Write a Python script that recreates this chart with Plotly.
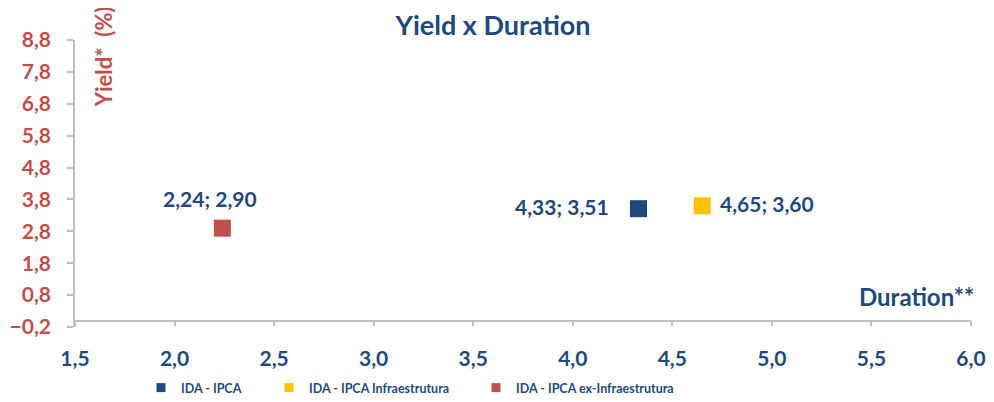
import plotly.graph_objects as go

series_names = ["IDA - IPCA", "IDA - IPCA Infraestrutura", "IDA - IPCA ex-Infraestrutura"]
duration = [4.33, 4.65, 2.24]
yield_pct = [3.51, 3.60, 2.90]
colors = ["#1F497D", "#FFC000", "#C0504D"]
label_pos = ["left", "right", "top"]

x_ticks = [1.5, 2.0, 2.5, 3.0, 3.5, 4.0, 4.5, 5.0, 5.5, 6.0]
y_ticks = [-0.2, 0.8, 1.8, 2.8, 3.8, 4.8, 5.8, 6.8, 7.8, 8.8]

FONT = "Lato, 'Open Sans', sans-serif"
BLUE = "#1F497D"
RED = "#C0504D"
AXIS = "#BFBFBF"

W, H = 986, 394  # page body has an 8px default margin

fig = go.Figure()

legend_ids = ["legend", "legend2", "legend3"]
for i, name in enumerate(series_names):
    fig.add_trace(go.Scatter(
        x=[duration[i]], y=[yield_pct[i]], mode="markers",
        marker=dict(symbol="square", size=17, color=colors[i]),
        showlegend=False, hoverinfo="skip"))
    fig.add_trace(go.Scatter(
        x=[None], y=[None], mode="markers", name=name,
        marker=dict(symbol="square", size=9, color=colors[i]),
        legend=legend_ids[i], showlegend=True))

def fmt(v):
    return f"{v:.2f}".replace(".", ",")

for i in range(len(series_names)):
    txt = f"{fmt(duration[i])}; {fmt(yield_pct[i])}"
    if label_pos[i] == "left":
        fig.add_annotation(x=duration[i], y=yield_pct[i], text=txt, showarrow=False,
                           xanchor="right", yanchor="middle", xshift=-27, yshift=2)
    elif label_pos[i] == "right":
        fig.add_annotation(x=duration[i], y=yield_pct[i], text=txt, showarrow=False,
                           xanchor="left", yanchor="middle", xshift=16, yshift=2)
    else:
        fig.add_annotation(x=duration[i], y=yield_pct[i], text=txt, showarrow=False,
                           xanchor="center", yanchor="middle", xshift=-12, yshift=30)

fig.update_annotations(font=dict(family=FONT, size=21, color=BLUE, weight="bold"))

# axis titles
fig.add_annotation(x=6.0, y=0, xref="x", yref="y", text="Duration**", showarrow=False,
                   xanchor="right", yanchor="bottom", xshift=5, yshift=8,
                   font=dict(family=FONT, size=24, color=BLUE, weight="bold"))
fig.add_annotation(x=1.5, y=0.94, xref="x", yref="paper", text="Yield*  (%)", showarrow=False,
                   textangle=-90, xanchor="center", yanchor="middle", xshift=28,
                   font=dict(family=FONT, size=22, color=RED, weight="bold"))

fig.update_layout(
    width=W, height=H,
    margin=dict(l=67, r=23, t=32, b=75, autoexpand=False),
    paper_bgcolor="white", plot_bgcolor="white",
    separators=",.",
    title=dict(text="Yield x Duration", x=485 / W, xanchor="center", y=1 - 18 / H, yanchor="middle",
               xref="container", yref="container",
               font=dict(family=FONT, size=27, color=BLUE, weight="bold")),
    xaxis=dict(range=[1.5, 6.0], tickvals=x_ticks, tickformat=".1f", automargin=False,
               showgrid=False, zeroline=False, showline=True, linecolor=AXIS, linewidth=1.5,
               ticks="outside", ticklen=5, tickcolor=AXIS, tickwidth=1.5,
               anchor="free", position=0.2 / 9.0, ticklabelstandoff=14,
               tickfont=dict(family=FONT, size=21, color=BLUE, weight="bold")),
    yaxis=dict(range=[-0.2, 8.8], tickvals=y_ticks, tickformat=".1f", automargin=False,
               showgrid=False, zeroline=False, showline=True, linecolor=AXIS, linewidth=1.5,
               ticks="outside", ticklen=6, tickcolor=AXIS, tickwidth=1.5,
               ticklabelstandoff=12,
               tickfont=dict(family=FONT, size=21, color=RED, weight="bold")),
)

legend_x = [133, 261, 468]
for lid, lx in zip(legend_ids, legend_x):
    fig.update_layout({lid: dict(
        orientation="h", xref="container", yref="container",
        x=lx / W, y=1 - 380 / H, xanchor="left", yanchor="middle",
        bgcolor="rgba(0,0,0,0)", itemclick=False, itemdoubleclick=False,
        font=dict(family=FONT, size=12.5, color=BLUE, weight="bold"))})

fig.write_html("out.html")
